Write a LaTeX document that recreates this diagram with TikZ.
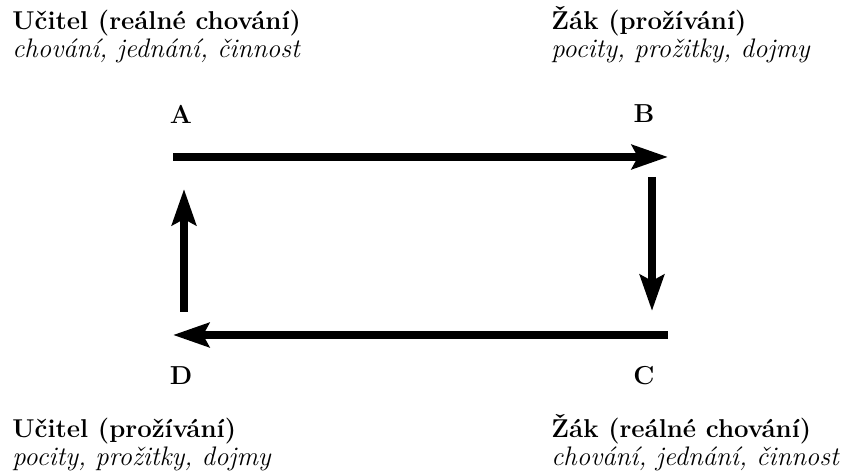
\documentclass[tikz,border=0pt]{standalone}
\usepackage{amsmath, amssymb}
\usepackage{tikz}
\usetikzlibrary{arrows.meta}

\begin{document}
\begin{tikzpicture}[x=0.5pt, y=-0.5pt,
		title/.style={anchor=base west, inner sep=0pt, font=\fontsize{12.9}{15}\selectfont\bfseries},
		sub/.style={anchor=base west, inner sep=0pt, font=\fontsize{13.4}{15}\selectfont\itshape},
		corner/.style={inner sep=0pt, font=\fontsize{13}{15}\selectfont\bfseries},
		flow/.style={line width=4.2pt, -{Stealth[length=18pt, width=12pt, inset=3pt]}}]
	\useasboundingbox (0,0) rectangle (859,474);
	
	% popisky v rozich
	\node[title] (t1) at (12,30) {Učitel (reálné chování)};
	\node[sub] (s1) at (12,58) {chování, jednání, činnost};
	\node[title] (t2) at (551,30) {Žák (prožívání)};
	\node[sub] (s2) at (551,58) {pocity, prožitky, dojmy};
	\node[title] (t3) at (12,438) {Učitel (prožívání)};
	\node[sub] (s3) at (12,466) {pocity, prožitky, dojmy};
	\node[title] (t4) at (551,438) {Žák (reálné chování)};
	\node[sub] (s4) at (551,466) {chování, jednání, činnost};
	
	% body cyklu
	\node[corner] (A) at (181,114) {A};
	\node[corner] (B) at (644,114) {B};
	\node[corner] (C) at (644,376) {C};
	\node[corner] (D) at (181,376) {D};
	
	% konce sipek
	\coordinate (ab1) at (173,157);
	\coordinate (ab2) at (668,157);
	\coordinate (bc1) at (652,177);
	\coordinate (bc2) at (652,311);
	\coordinate (cd1) at (668,335);
	\coordinate (cd2) at (173,335);
	\coordinate (da1) at (184,312);
	\coordinate (da2) at (184,189);
	
	% sipky
	\draw[flow] (ab1) -- (ab2);
	\draw[flow] (bc1) -- (bc2);
	\draw[flow] (cd1) -- (cd2);
	\draw[flow] (da1) -- (da2);
\end{tikzpicture}
\end{document}
